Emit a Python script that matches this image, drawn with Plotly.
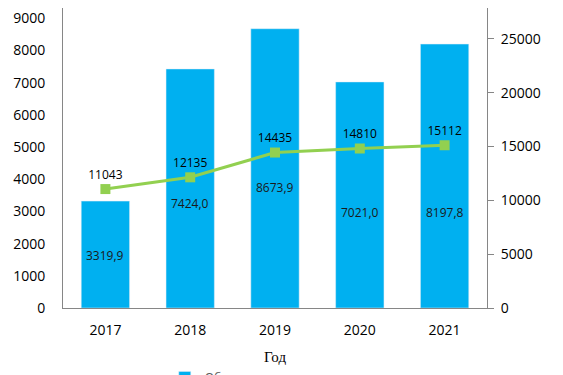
import plotly.graph_objects as go

years = ["2017", "2018", "2019", "2020", "2021"]
bar_values = [3319.9, 7424.0, 8673.9, 7021.0, 8197.8]
bar_labels = ["3319,9", "7424,0", "8673,9", "7021,0", "8197,8"]
line_values = [11043, 12135, 14435, 14810, 15112]
line_labels = ["11043", "12135", "14435", "14810", "15112"]

# label placement (style) for bar value labels, in left-axis units
bar_label_y = [1646, 3261, 3758, 2981, 2981]

BLUE = "#00B0F0"
GREEN = "#92D050"
AXIS = "#868686"
FONT = "Open Sans"

fig = go.Figure()
fig.add_trace(go.Bar(
    x=years, y=bar_values, marker_color=BLUE, width=0.57,
    name="Объем производства продукции, тыс. т", showlegend=True,
    hoverinfo="skip"))
fig.add_trace(go.Scatter(
    x=years, y=line_values, yaxis="y2", mode="lines+markers+text",
    line=dict(color=GREEN, width=3),
    marker=dict(symbol="square", size=10, color=GREEN),
    text=line_labels, textposition="top center",
    textfont=dict(family=FONT, size=12, color="#000000"),
    name="Численность", showlegend=False))

for i, (y, t) in enumerate(zip(bar_label_y, bar_labels)):
    fig.add_annotation(x=i, y=y, xref="x", yref="y", text=t, showarrow=False,
                       font=dict(family=FONT, size=12, color="#1a1a1a"))

fig.update_layout(
    width=555, height=367,
    margin=dict(l=55, r=76, t=0, b=67, autoexpand=False),
    paper_bgcolor="white", plot_bgcolor="white",
    showlegend=True,
    legend=dict(orientation="h", x=0.24, y=-0.183, xanchor="left", yanchor="top",
                font=dict(family=FONT, size=12, color="#595959")),
    xaxis=dict(type="category", showline=True, linecolor=AXIS, linewidth=1, ticks="",
               automargin=False, ticklabelstandoff=9,
               tickfont=dict(family=FONT, size=14, color="#000000"),
               title=dict(text="Год", font=dict(family="Liberation Serif", size=15, color="#000000"), standoff=13),
               showgrid=False),
    yaxis=dict(range=[0, 9317], tickvals=list(range(0, 10000, 1000)), tickformat="d",
               showline=True, linecolor=AXIS, linewidth=1, ticks="", automargin=False,
               showgrid=False, zeroline=False,
               tickfont=dict(family=FONT, size=14, color="#000000"), ticklabelstandoff=14),
    yaxis2=dict(range=[0, 27855], tickvals=list(range(0, 30000, 5000)), tickformat="d",
                overlaying="y", side="right", automargin=False,
                showline=True, linecolor=AXIS, linewidth=1, ticks="outside", ticklen=6, tickcolor=AXIS,
                showgrid=False, zeroline=False,
                tickfont=dict(family=FONT, size=14, color="#000000"), ticklabelstandoff=4),
)

fig.write_html("out.html")
